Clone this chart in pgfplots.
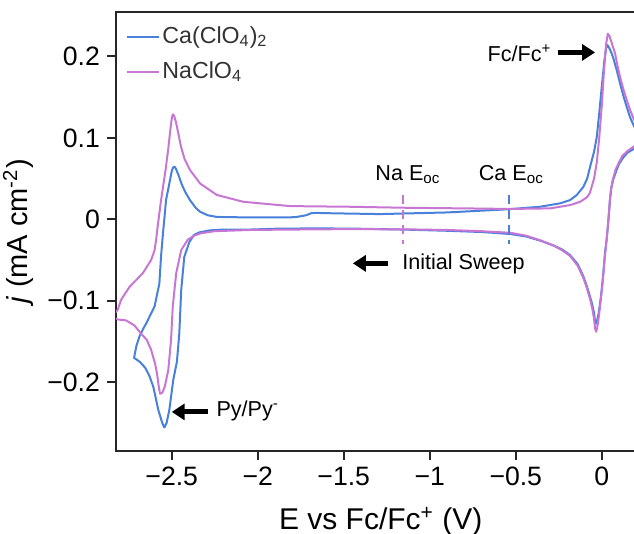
\documentclass[border=0pt]{standalone}
\usepackage{pgfplots}
\pgfplotsset{compat=1.18}
\usetikzlibrary{arrows.meta}
\usepackage{fontspec}
\setmainfont{Liberation Sans}
\definecolor{caBlue}{RGB}{72,128,218}
\definecolor{naPink}{RGB}{200,118,212}

\begin{document}
\begin{tikzpicture}
\begin{scope}
% the reference figure is cut off on the right, just past 0.19 V
\clip (-58pt,-41.65pt) rectangle (259pt,225.35pt);
\begin{axis}[
    scale only axis, width=268.7pt, height=219.5pt,
    xmin=-2.824, xmax=0.3, ymin=-0.284, ymax=0.255,
    axis line style={line width=1pt, black!85},
    tick style={line width=1pt, black!85},
    tick align=outside, major tick length=4.5pt,
    xtick pos=left, ytick pos=left,
    xtick={-2.5,-2,-1.5,-1,-0.5,0},
    xticklabels={−2.5,−2,−1.5,−1,−0.5,0},
    ytick={-0.2,-0.1,0,0.1,0.2},
    yticklabels={−0.2,−0.1,0,0.1,0.2},
    ticklabel style={font=\fontsize{13.3}{16}\selectfont},
    xlabel={E vs Fc/Fc\textsuperscript{+} (V)},
    ylabel={\textit{j} (mA cm\textsuperscript{-2})},
    label style={font=\fontsize{14.5}{17}\selectfont},
    xlabel style={yshift=-4pt, xshift=-2pt, font=\fontsize{15}{18}\selectfont},
    legend style={draw=none, fill=none, at={(0,1)}, anchor=north west,
        xshift=2pt, yshift=-4pt, font=\fontsize{11.6}{14}\selectfont,
        text=black!80, row sep=4.5pt,
        nodes={inner sep=1pt, text height=8.5pt, text depth=2.5pt}},
    legend cell align=left,
    legend image code/.code={\draw[#1, line width=1pt] (0pt,0pt) -- (16pt,0pt);},
    every axis plot/.append style={line width=1pt, line join=round},
]

% Ca(ClO4)2
\addplot[caBlue] coordinates {
    (0.30,0.093) (0.24,0.091) (0.19,0.087) (0.15,0.082) (0.125,0.076)
    (0.10,0.068) (0.085,0.060) (0.065,0.048) (0.055,0.038) (0.048,0.024)
    (0.043,0.010) (0.038,-0.003) (0.028,-0.025) (0.019,-0.040) (0.008,-0.068)
    (-0.005,-0.095) (-0.018,-0.115) (-0.028,-0.125) (-0.033,-0.128)
    (-0.040,-0.124) (-0.045,-0.115) (-0.055,-0.105) (-0.068,-0.095)
    (-0.087,-0.082) (-0.107,-0.070) (-0.14,-0.055) (-0.184,-0.044)
    (-0.23,-0.037) (-0.281,-0.032) (-0.36,-0.026) (-0.44,-0.021)
    (-0.53,-0.018) (-0.70,-0.0155) (-0.9,-0.014) (-1.155,-0.0125)
    (-1.4,-0.0115) (-1.657,-0.011) (-1.9,-0.0115) (-2.045,-0.0125)
    (-2.2,-0.0125) (-2.28,-0.0135) (-2.34,-0.016) (-2.37,-0.019)
    (-2.397,-0.0275) (-2.427,-0.046) (-2.445,-0.087) (-2.456,-0.140)
    (-2.47,-0.175) (-2.491,-0.197) (-2.514,-0.234) (-2.53,-0.250)
    (-2.543,-0.2555) (-2.555,-0.250) (-2.578,-0.234) (-2.607,-0.2056)
    (-2.63,-0.192) (-2.655,-0.182) (-2.685,-0.175) (-2.705,-0.172)
    (-2.719,-0.170) (-2.705,-0.155) (-2.688,-0.144) (-2.665,-0.134)
    (-2.649,-0.128) (-2.60,-0.107) (-2.572,-0.079) (-2.562,-0.045)
    (-2.552,-0.020) (-2.533,0.0237) (-2.514,0.044) (-2.499,0.060)
    (-2.491,0.064) (-2.483,0.0645) (-2.475,0.062) (-2.46,0.054)
    (-2.442,0.043) (-2.42,0.033) (-2.394,0.0237) (-2.36,0.014)
    (-2.335,0.0093) (-2.29,0.005) (-2.238,0.003) (-2.085,0.0025)
    (-1.812,0.0025) (-1.773,0.003) (-1.72,0.005) (-1.69,0.0075)
    (-1.667,0.008) (-1.55,0.0074) (-1.289,0.0065) (-0.90,0.0085)
    (-0.552,0.0123) (-0.359,0.0155) (-0.242,0.0197) (-0.184,0.0237)
    (-0.145,0.030) (-0.107,0.040) (-0.085,0.050) (-0.068,0.0646)
    (-0.045,0.083) (-0.029,0.1015) (-0.015,0.130) (0.0,0.163)
    (0.015,0.195) (0.025,0.210) (0.033,0.214) (0.042,0.211)
    (0.055,0.205) (0.067,0.198) (0.087,0.183) (0.106,0.167)
    (0.125,0.152) (0.145,0.138) (0.165,0.125) (0.188,0.114)
    (0.24,0.098) (0.30,0.093)
};
\addlegendentry{Ca(ClO\textsubscript{4})\textsubscript{2}}

% NaClO4
\addplot[naPink] coordinates {
    (0.30,0.096) (0.24,0.094) (0.19,0.090) (0.15,0.084) (0.12,0.078)
    (0.10,0.070) (0.08,0.061) (0.062,0.047) (0.052,0.035) (0.046,0.022)
    (0.041,0.008) (0.036,-0.006) (0.026,-0.030) (0.016,-0.050)
    (0.005,-0.078) (-0.008,-0.103) (-0.02,-0.124) (-0.028,-0.134)
    (-0.033,-0.138) (-0.039,-0.134) (-0.045,-0.122) (-0.055,-0.110)
    (-0.068,-0.098) (-0.087,-0.084) (-0.107,-0.072) (-0.14,-0.057)
    (-0.184,-0.045) (-0.23,-0.038) (-0.281,-0.032) (-0.36,-0.0255)
    (-0.44,-0.020) (-0.53,-0.0165) (-0.70,-0.0145) (-0.9,-0.013)
    (-1.155,-0.0122) (-1.5,-0.012) (-1.8,-0.0125) (-2.045,-0.013)
    (-2.25,-0.0145) (-2.33,-0.017) (-2.37,-0.020) (-2.407,-0.025)
    (-2.445,-0.0377) (-2.474,-0.066) (-2.494,-0.107) (-2.504,-0.148)
    (-2.52,-0.185) (-2.54,-0.205) (-2.555,-0.213) (-2.568,-0.214)
    (-2.575,-0.206) (-2.585,-0.19) (-2.597,-0.177) (-2.62,-0.160)
    (-2.645,-0.148) (-2.679,-0.140) (-2.718,-0.130) (-2.766,-0.124)
    (-2.81,-0.123) (-2.85,-0.120) (-2.814,-0.111) (-2.795,-0.099)
    (-2.746,-0.083) (-2.70,-0.073) (-2.668,-0.066) (-2.62,-0.050)
    (-2.60,-0.038) (-2.591,-0.0254) (-2.582,-0.009) (-2.562,0.0237)
    (-2.535,0.062) (-2.52,0.087) (-2.507,0.112) (-2.499,0.125)
    (-2.493,0.129) (-2.486,0.127) (-2.476,0.120) (-2.462,0.106)
    (-2.446,0.089) (-2.425,0.074) (-2.394,0.0606) (-2.335,0.044)
    (-2.238,0.030) (-2.084,0.0216) (-1.812,0.0163) (-1.463,0.0155)
    (-1.155,0.0143) (-0.80,0.0135) (-0.533,0.0128) (-0.30,0.0135)
    (-0.184,0.0176) (-0.126,0.0216) (-0.087,0.027) (-0.07,0.032)
    (-0.045,0.050) (-0.029,0.070) (-0.015,0.100) (0.0,0.140)
    (0.012,0.180) (0.025,0.215) (0.035,0.228) (0.045,0.225)
    (0.06,0.215) (0.077,0.204) (0.09,0.19) (0.106,0.175)
    (0.125,0.16) (0.145,0.1466) (0.165,0.134) (0.188,0.122)
    (0.24,0.105) (0.30,0.096)
};
\addlegendentry{NaClO\textsubscript{4}}

% open-circuit potentials
\addplot[naPink, forget plot, dash pattern=on 4.5pt off 3pt] coordinates {(-1.153,0.030) (-1.153,-0.030)};
\addplot[caBlue, forget plot, dash pattern=on 4.5pt off 3pt] coordinates {(-0.541,0.030) (-0.541,-0.030)};

\node[anchor=base west, inner sep=0pt, font=\fontsize{10.8}{13}\selectfont]
    at (axis cs:-1.318,0.048) {Na E\textsubscript{oc}};
\node[anchor=base west, inner sep=0pt, font=\fontsize{10.8}{13}\selectfont]
    at (axis cs:-0.717,0.048) {Ca E\textsubscript{oc}};
\node[anchor=base west, inner sep=0pt, font=\fontsize{10.8}{13}\selectfont]
    at (axis cs:-1.162,-0.061) {Initial Sweep};
\node[anchor=base east, inner sep=0pt, font=\fontsize{10.8}{13}\selectfont]
    at (axis cs:-0.29,0.194) {Fc/Fc\textsuperscript{+}};
\node[anchor=base west, inner sep=0pt, font=\fontsize{10.8}{13}\selectfont]
    at (axis cs:-2.242,-0.2425) {Py/Py\textsuperscript{-}};

\draw[-{Triangle[length=6.5pt,width=8pt]}, line width=2.5pt]
    (axis cs:-0.254,0.205) -- (axis cs:-0.039,0.205);
\draw[-{Triangle[length=6.5pt,width=8pt]}, line width=2.5pt]
    (axis cs:-1.242,-0.054) -- (axis cs:-1.447,-0.054);
\draw[-{Triangle[length=6.5pt,width=8pt]}, line width=2.5pt]
    (axis cs:-2.287,-0.2364) -- (axis cs:-2.50,-0.2364);
\end{axis}
\end{scope}
\pgfresetboundingbox
\path[use as bounding box] (-58pt,-41.65pt) rectangle (259pt,225.35pt);
\end{tikzpicture}
\end{document}
